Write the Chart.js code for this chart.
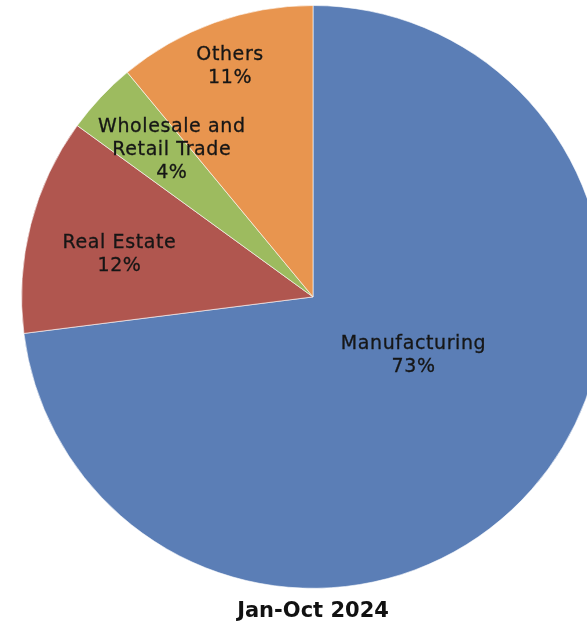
<!DOCTYPE html>
<html>
<head>
<meta charset="utf-8">
<script src="https://cdn.jsdelivr.net/npm/chart.js@4"></script>
<style>
  html, body { margin: 0; padding: 0; background: #fff; overflow: hidden; }
  #wrap { width: 626px; height: 626px; }
</style>
</head>
<body>
<div id="wrap"><canvas id="myChart"></canvas></div>
<script>
// sectors, Jan-Oct 2024
const sectors = ['Manufacturing', 'Real Estate', 'Wholesale and\nRetail Trade', 'Others'];
const shares = [73, 12, 4, 11];
const colors = ['#5b7eb6', '#b0564f', '#9dbb5f', '#e8954f'];

// where each label sits: fraction of radius, and angle nudge in degrees
const labelRadius = [0.40, 0.68, 0.70, 0.84];
const labelNudge = [-11, -2, 3, 0];

const sliceLabels = {
  id: 'sliceLabels',
  afterDatasetsDraw(chart) {
    const c = chart.ctx;
    const meta = chart.getDatasetMeta(0);
    c.save();
    c.font = '19px "DejaVu Sans"';
    c.letterSpacing = '0.6px';
    c.fillStyle = '#161616';
    c.strokeStyle = '#161616';
    c.lineWidth = 0.3;
    c.textAlign = 'center';
    c.textBaseline = 'middle';
    meta.data.forEach((arc, i) => {
      const p = arc.getProps(['x', 'y', 'startAngle', 'endAngle', 'outerRadius']);
      const a = (p.startAngle + p.endAngle) / 2 + labelNudge[i] * Math.PI / 180;
      const r = p.outerRadius * labelRadius[i];
      const cx = p.x + Math.cos(a) * r;
      const cy = p.y + Math.sin(a) * r;
      const lines = sectors[i].split('\n').concat(shares[i] + '%');
      const lh = 23;
      lines.forEach((t, k) => {
        const y = cy + (k - (lines.length - 1) / 2) * lh;
        c.fillText(t, cx, y);
        c.strokeText(t, cx, y);
      });
    });
    c.restore();
  }
};

var ctx = document.getElementById('myChart');

var myChart = new Chart(ctx, {
  type: 'pie',
  data: {
    labels: sectors,
    datasets: [{
      data: shares,
      backgroundColor: colors,
      borderColor: 'rgba(255,255,255,0.6)',
      borderWidth: 1
    }]
  },
  options: {
    responsive: true,
    maintainAspectRatio: false,
    animation: false,
    layout: { padding: { top: 5, left: 0, right: 0, bottom: 0 } },
    plugins: {
      legend: { display: false },
      tooltip: { enabled: false },
      title: {
        display: true,
        position: 'bottom',
        text: 'Jan-Oct 2024',
        color: '#111',
        font: { family: 'DejaVu Sans', size: 21, weight: 'bold', lineHeight: 1.2 },
        padding: { top: 10, bottom: 2 }
      }
    }
  },
  plugins: [sliceLabels]
});
</script>
</body>
</html>
